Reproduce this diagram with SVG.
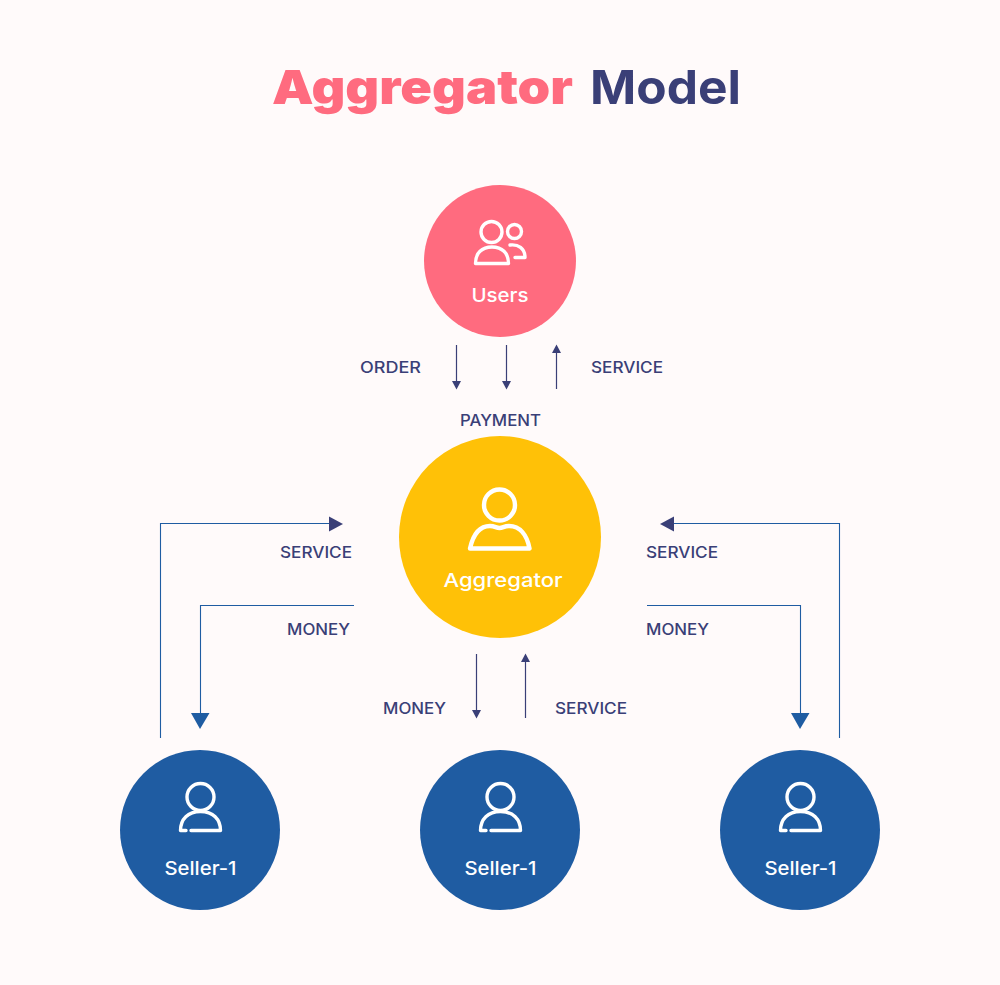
<svg xmlns="http://www.w3.org/2000/svg" width="1000" height="985" viewBox="0 0 1000 985">
<style>
text{font-family:"Inter","Open Sans","Liberation Sans",sans-serif}
.title{font-size:47px;font-weight:900}
.lab{font-size:15.500px;font-weight:500;fill:#3a3f77}
.name{font-size:19px;font-weight:500;fill:#fff;text-anchor:middle}
.ico{fill:none;stroke:#fff;stroke-width:3.400;stroke-linecap:round;stroke-linejoin:round}
.c1{fill:none;stroke:#3a3f77;stroke-width:1.200}
.c2{fill:none;stroke:#1f5ca2;stroke-width:1.100}
.a1{fill:#3a3f77}
.a2{fill:#1f5ca2}
</style>
<rect width="1000" height="985" fill="#fffafa"/>
<g id="title">
<text class="title" x="272" y="104" fill="#ff6b7f" textLength="301" lengthAdjust="spacingAndGlyphs">Aggregator</text>
<text class="title" x="590" y="104" fill="#3a3f77" style="font-weight:700" textLength="151" lengthAdjust="spacingAndGlyphs">Model</text>
</g>
<g id="connectors">
<!-- users and aggregator -->
<path class="c1" d="M456.500 345V383M506.500 345V383M556.500 389V351"/>
<path class="a1" d="M452 381H461L456.500 389.500ZM502 381H511L506.500 389.500ZM552 353H561L556.500 344.500Z"/>
<!-- aggregator and middle seller -->
<path class="c1" d="M476.500 654V712M525.500 718V660"/>
<path class="a1" d="M472 710H481L476.500 718.500ZM521 662H530L525.500 653.500Z"/>
<!-- outer return lines -->
<path class="c2" d="M160.500 738V523.500H331"/>
<path class="a1" d="M329 516.500V531.500L343 524Z"/>
<path class="c2" d="M839.500 738V523.500H672"/>
<path class="a1" d="M674 516.500V531.500L660 524Z"/>
<!-- outer payment lines -->
<path class="c2" d="M354 605.500H200.500V714"/>
<path class="a2" d="M191 713H209.500L200 729Z"/>
<path class="c2" d="M647 605.500H800.500V714"/>
<path class="a2" d="M791 713H809.500L800 729Z"/>
</g>
<g id="connector-labels">
<text class="lab" x="360" y="373" textLength="61" lengthAdjust="spacingAndGlyphs">ORDER</text>
<text class="lab" x="591" y="373" textLength="72" lengthAdjust="spacingAndGlyphs">SERVICE</text>
<text class="lab" x="460" y="426" textLength="81" lengthAdjust="spacingAndGlyphs">PAYMENT</text>
<text class="lab" x="280" y="558" textLength="72" lengthAdjust="spacingAndGlyphs">SERVICE</text>
<text class="lab" x="646" y="558" textLength="72" lengthAdjust="spacingAndGlyphs">SERVICE</text>
<text class="lab" x="287" y="635" textLength="63" lengthAdjust="spacingAndGlyphs">MONEY</text>
<text class="lab" x="646" y="635" textLength="63" lengthAdjust="spacingAndGlyphs">MONEY</text>
<text class="lab" x="383" y="714" textLength="63" lengthAdjust="spacingAndGlyphs">MONEY</text>
<text class="lab" x="555" y="714" textLength="72" lengthAdjust="spacingAndGlyphs">SERVICE</text>
</g>
<g id="users">
<circle cx="500" cy="261" r="76" fill="#ff6b7f"/>
<circle class="ico" cx="491.500" cy="232" r="10.500"/>
<path class="ico" d="M475.500 263.500C475.500 253 482 247 492 247C502 247 508.500 253 508.500 263.500Z"/>
<circle class="ico" cx="514.500" cy="231.500" r="7"/>
<path class="ico" d="M510 245C518 244 525 248 525 257.500H515"/>
<text class="name" x="500" y="301.500" textLength="57" lengthAdjust="spacingAndGlyphs">Users</text>
</g>
<g id="aggregator">
<circle cx="500" cy="537" r="101" fill="#ffc107"/>
<circle class="ico" cx="499.500" cy="505" r="15.500" style="stroke-width:4.400"/>
<path class="ico" style="stroke-width:4.400" d="M470 548.500C473 535 479 526 490 526C495 526 496 528 499.500 528C503 528 504 526 509 526C520 526 527 535 529.500 548.500Z"/>
<text class="name" x="503" y="587" textLength="119" lengthAdjust="spacingAndGlyphs">Aggregator</text>
</g>
<g id="seller-left">
<circle cx="200" cy="830" r="80" fill="#1f5ca2"/>
<circle class="ico" cx="200.500" cy="797" r="13.500"/>
<path class="ico" d="M180.500 830.500C180.500 819 188 811.500 200.500 811.500C213 811.500 220.500 819 220.500 830.500H191M186 830.500H180.500"/>
<text class="name" x="200.500" y="874.500" textLength="72" lengthAdjust="spacingAndGlyphs">Seller-1</text>
</g>
<g id="seller-middle">
<circle cx="500" cy="830" r="80" fill="#1f5ca2"/>
<circle class="ico" cx="500.500" cy="797" r="13.500"/>
<path class="ico" d="M480.500 830.500C480.500 819 488 811.500 500.500 811.500C513 811.500 520.500 819 520.500 830.500H491M486 830.500H480.500"/>
<text class="name" x="500.500" y="874.500" textLength="72" lengthAdjust="spacingAndGlyphs">Seller-1</text>
</g>
<g id="seller-right">
<circle cx="800" cy="830" r="80" fill="#1f5ca2"/>
<circle class="ico" cx="800.500" cy="797" r="13.500"/>
<path class="ico" d="M780.500 830.500C780.500 819 788 811.500 800.500 811.500C813 811.500 820.500 819 820.500 830.500H791M786 830.500H780.500"/>
<text class="name" x="800.500" y="874.500" textLength="72" lengthAdjust="spacingAndGlyphs">Seller-1</text>
</g>
</svg>
